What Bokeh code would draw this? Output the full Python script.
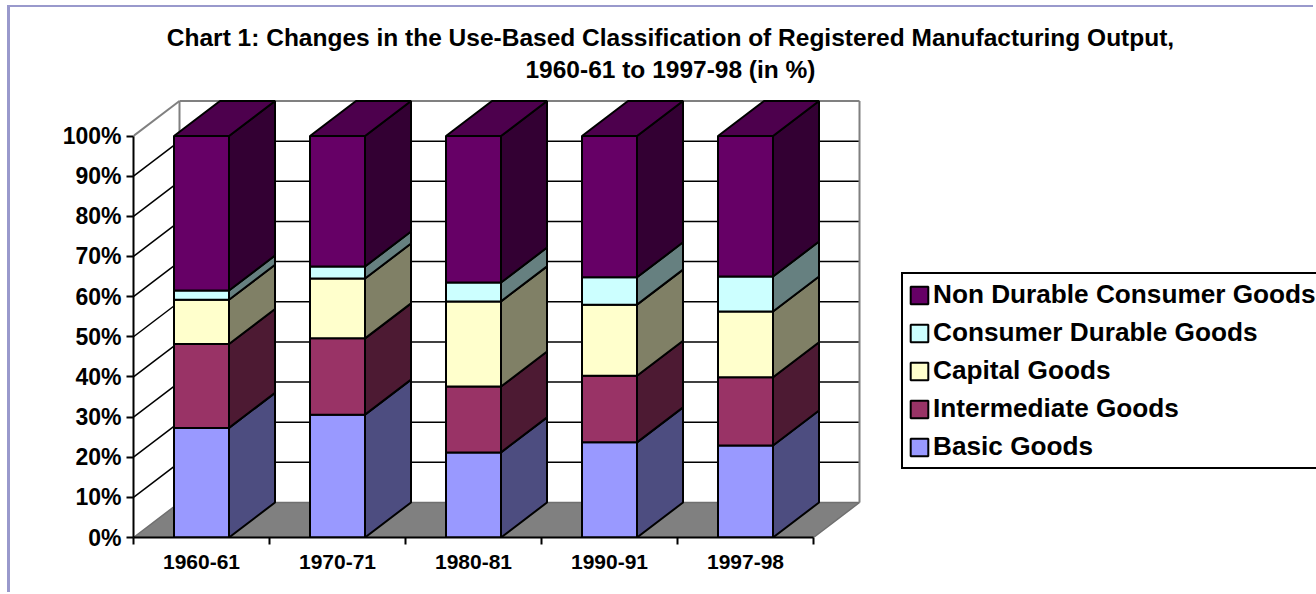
from bokeh.plotting import figure
from bokeh.models import (Label, Legend, LegendItem, LinearAxis, FixedTicker)
from bokeh.embed import file_html
from bokeh.resources import INLINE

categories = ["1960-61", "1970-71", "1980-81", "1990-91", "1997-98"]
basic = [27.3, 30.6, 21.2, 23.7, 22.9]
intermediate = [20.9, 19.0, 16.4, 16.6, 17.0]
capital = [11.0, 14.9, 21.2, 17.7, 16.4]
durable = [2.3, 3.0, 4.7, 6.8, 8.7]
nondurable = [38.5, 32.5, 36.5, 35.2, 35.0]

series_names = ["Basic Goods", "Intermediate Goods", "Capital Goods",
                "Consumer Durable Goods", "Non Durable Consumer Goods"]
front_colors = ["#9999FF", "#993366", "#FFFFCC", "#CCFFFF", "#660066"]
side_colors = ["#4D4D80", "#4D1A33", "#808066", "#668080", "#330033"]
top_color = "#4D004D"
y_ticks = [0, 10, 20, 30, 40, 50, 60, 70, 80, 90, 100]
title_lines = ["Chart 1: Changes in the Use-Based Classification of Registered Manufacturing Output,",
               "1960-61 to 1997-98 (in %)"]

FONT = "Liberation Sans"
PX_X, PX_Y = 136.0, 4.015      # pixels per category / per percent
ORG_X, ORG_Y, W, H = 10, 7, 1306, 587
LEFT, TOP, BOTTOM, RIGHT = 133, ORG_Y, 537, ORG_X + W
DX, DY = 46 / PX_X, 35 / PX_Y  # depth of the box in axis units
BAR = 55 / PX_X

def dx(px):
    return (px - LEFT) / PX_X

def dy(py):
    return (BOTTOM - py) / PX_Y

p = figure(width=W, height=H, output_backend="svg", toolbar_location=None,
           x_range=(0, (RIGHT - LEFT) / PX_X), y_range=(0, (BOTTOM - TOP) / PX_Y),
           min_border_left=LEFT - ORG_X, min_border_right=0,
           min_border_top=0, min_border_bottom=ORG_Y + H - BOTTOM,
           outline_line_color=None, background_fill_color="white", border_fill_color="white",
           margin=(5, 0, 0, 7),
           styles={"border-left": "3px solid #9999CC", "border-top": "2px solid #9999CC"})
p.grid.visible = False

# Walls and floor
n = len(categories)
p.patch([0, n, n + DX, DX], [0, 0, DY, DY], fill_color="#808080", line_color="#707070", line_width=1.5)
grid = [v for v in y_ticks if 0 < v < 100]
p.segment([DX] * len(grid), [v + DY for v in grid], [n + DX] * len(grid), [v + DY for v in grid],
          line_color="black", line_width=1.5)
p.segment([0] * len(grid), grid, [DX] * len(grid), [v + DY for v in grid],
          line_color="black", line_width=1.5)
p.segment([0, DX, DX, n + DX], [100, 100 + DY, 100 + DY, DY],
          [DX, n + DX, DX, n + DX], [100 + DY, 100 + DY, DY, 100 + DY],
          line_color="#808080", line_width=2)

# Stacked bars: front faces, side faces, top faces
renderers = []
bottoms = [0.0] * n
for name, vals, fc, sc in zip(series_names, [basic, intermediate, capital, durable, nondurable],
                              front_colors, side_colors):
    tops = [b + v for b, v in zip(bottoms, vals)]
    centers = [i + 0.5 for i in range(n)]
    xs, ys = [], []
    for c, b, t in zip(centers, bottoms, tops):
        x1 = c + BAR / 2
        xs.append([x1, x1 + DX, x1 + DX, x1])
        ys.append([b, b + DY, t + DY, t])
    p.patches(xs, ys, fill_color=sc, line_color="black", line_width=2)
    r = p.vbar(x=centers, width=BAR, bottom=bottoms, top=tops,
               fill_color=fc, line_color="black", line_width=2)
    renderers.append(r)
    bottoms = tops
xs = [[c - BAR / 2, c + BAR / 2, c + BAR / 2 + DX, c - BAR / 2 + DX] for c in centers]
ys = [[t, t, t + DY, t + DY] for t in tops]
p.patches(xs, ys, fill_color=top_color, line_color="black", line_width=2)

# Axes
ax = p.yaxis[0]
ax.bounds = (0, 100)
ax.ticker = FixedTicker(ticks=y_ticks)
ax.major_label_overrides = {v: f"{v}%" for v in y_ticks}
ax.major_label_text_font = FONT
ax.major_label_text_font_style = "bold"
ax.major_label_text_font_size = "23px"
ax.major_label_text_color = "black"
ax.major_label_standoff = 5
ax.axis_line_color = "black"
ax.axis_line_width = 2
ax.major_tick_line_color = "black"
ax.major_tick_line_width = 2
ax.major_tick_in = 0
ax.major_tick_out = 7
ax.minor_tick_line_color = None

bx = p.xaxis[0]
bx.bounds = (0, n)
bx.ticker = FixedTicker(ticks=list(range(n + 1)))
bx.major_label_text_font_size = "0px"
bx.major_label_text_color = None
bx.major_label_standoff = 0
bx.axis_line_color = "black"
bx.axis_line_width = 2
bx.major_tick_line_color = "black"
bx.major_tick_line_width = 2
bx.major_tick_in = 0
bx.major_tick_out = 7
bx.minor_tick_line_color = None

lx = LinearAxis(ticker=FixedTicker(ticks=[i + 0.5 for i in range(n)]),
                major_label_overrides={i + 0.5: c for i, c in enumerate(categories)},
                axis_line_color=None, major_tick_line_color=None, minor_tick_line_color=None,
                major_label_text_font=FONT, major_label_text_font_style="bold",
                major_label_text_font_size="21px", major_label_text_color="black",
                major_label_standoff=4)
p.add_layout(lx, "below")

# Title
for line, cx, cy in zip(title_lines, [670, 670], [37, 69]):
    p.add_layout(Label(x=dx(cx), y=dy(cy), text=line, text_align="center", text_baseline="middle",
                       text_font=FONT, text_font_style="bold", text_font_size="24.5px",
                       text_color="black"))

# Legend
items = [LegendItem(label=nm, renderers=[r]) for nm, r in zip(series_names[::-1], renderers[::-1])]
legend = Legend(items=items, location=(901 - LEFT, BOTTOM - 469), orientation="vertical",
                border_line_color="black", border_line_width=2, border_line_alpha=1,
                background_fill_color="white",
                background_fill_alpha=1, margin=0, padding=5, spacing=7,
                glyph_width=22, glyph_height=22, label_standoff=3, label_width=400,
                label_text_font=FONT, label_text_font_style="bold", label_text_font_size="26.2px",
                label_text_color="black")
p.add_layout(legend, "center")

open("out.html", "w").write(file_html(p, INLINE))
